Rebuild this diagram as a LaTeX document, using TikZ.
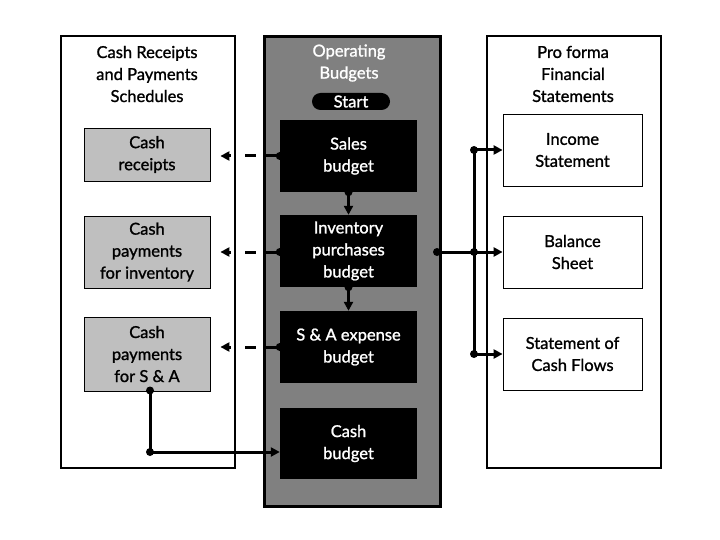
\documentclass[tikz,border=0pt]{standalone}
\usepackage{fontspec}
\setmainfont{Lato}[BoldFont={Lato},BoldFeatures={FakeBold=1.2}]
\usetikzlibrary{arrows.meta}
\begin{document}
\begin{tikzpicture}[x=1pt,y=-1pt,
  txt/.style={font=\fontsize{16.5}{22}\selectfont\bfseries},
  panel/.style={draw=black,line width=2pt,anchor=north west,inner sep=0pt},
  graybox/.style={txt,draw=black,line width=0.8pt,fill=black!25,minimum width=126pt,minimum height=73pt,align=center,inner sep=0pt},
  blackbox/.style={txt,fill=black,minimum width=137pt,minimum height=72pt,align=center,inner sep=0pt,text=white},
  whitebox/.style={txt,draw=black,line width=0.8pt,fill=white,minimum width=139pt,minimum height=72pt,align=center,inner sep=0pt},
  head/.style={txt,align=center},
  conn/.style={line width=3pt,-{Triangle[length=9pt,width=9pt]}},
  dconn/.style={conn,dash pattern=on 17pt off 7pt on 11pt off 14pt},
  dotc/.style={circle,fill=black,inner sep=0pt,minimum size=8pt}
]
\useasboundingbox (0,0) rectangle (720,540);
\fill[white] (0,0) rectangle (720,540);
% panels
\node[panel,minimum width=174pt,minimum height=432pt] (lp) at (60,35) {};
\node[panel,fill=black!50,line width=3pt,minimum width=176pt,minimum height=470pt] (mp) at (263,35) {};
\node[panel,minimum width=174pt,minimum height=432pt] (rp) at (486,35) {};
% headers
\node[head] (lh) at (147,74) {Cash Receipts\\and Payments\\Schedules};
\node[head,text=white] (mh) at (349,63) {Operating\\Budgets};
\node[txt,fill=black,text=white,rounded corners=8.5pt,minimum width=78pt,minimum height=17pt,inner sep=0pt] (start) at (351,101.5) {Start};
\node[head] (rh) at (573,74) {Pro forma\\Financial\\Statements};
% left boxes
\node[graybox,minimum height=53pt] (cr) at (147,154.5) {Cash\\receipts};
\node[graybox,minimum height=72pt] (cpi) at (147,252) {Cash\\payments\\for inventory};
\node[graybox,minimum height=74pt] (cps) at (147,354) {Cash\\payments\\for S \& A};
% middle boxes
\node[blackbox] (sb) at (348.5,156) {Sales\\budget};
\node[blackbox] (ipb) at (348.5,251) {Inventory\\purchases\\budget};
\node[blackbox] (sab) at (348.5,347) {S \& A expense\\budget};
\node[blackbox,minimum height=71pt] (cb) at (348.5,443.5) {Cash\\budget};
% right boxes
\node[whitebox] (is) at (572.5,150) {Income\\Statement};
\node[whitebox] (bs) at (572.5,252) {Balance\\Sheet};
\node[whitebox] (scf) at (572.5,354) {Statement of\\Cash Flows};
% left dashed connectors
\coordinate (d1) at (sb.west);
\coordinate (d2) at (sb.west |- cpi.east);
\coordinate (d3) at (sab.west);
\draw[dconn,shorten >=10pt] (d1) -- (cr.east |- d1);
\draw[dconn,shorten >=10pt] (d2) -- (cpi.east |- d2);
\draw[dconn,shorten >=10pt] (d3) -- (cps.east |- d3);
\node[dotc] at (d1) {};
\node[dotc] at (d2) {};
\node[dotc] at (d3) {};
% middle vertical arrows
\draw[conn] (sb.south) -- (ipb.north);
\node[dotc] at (sb.south) {};
\draw[conn] (ipb.south) -- (sab.north);
\node[dotc] at (ipb.south) {};
% bottom connector
\coordinate (b0) at (150,390.5);
\coordinate (b1) at (150,452);
\draw[conn] (b0) -- (b1) -- (cb.west |- b1);
\node[dotc] at (b0) {};
\node[dotc] at (b1) {};
% right connectors
\coordinate (r0) at (437,252);
\coordinate (bt) at (474,150);
\coordinate (bm) at (474,252);
\coordinate (bb) at (474,354);
\draw[line width=3pt] (bt) -- (bb);
\draw[conn] (r0) -- (bs.west);
\draw[conn] (bt) -- (is.west);
\draw[conn] (bb) -- (scf.west);
\node[dotc] at (r0) {};
\node[dotc] at (bt) {};
\node[dotc] at (bm) {};
\node[dotc] at (bb) {};
\end{tikzpicture}
\end{document}
